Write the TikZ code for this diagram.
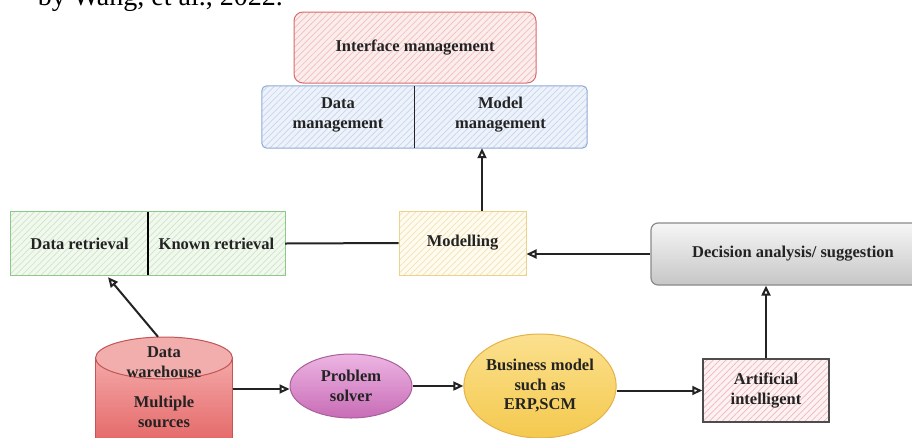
\documentclass[tikz,border=0pt]{standalone}
\usepackage{fontspec}
\setmainfont{Liberation Serif}
\usetikzlibrary{arrows.meta,patterns.meta,shapes.geometric,backgrounds}
\definecolor{txt}{HTML}{232323}
\definecolor{ifb}{HTML}{D96A6A}\definecolor{iff}{HTML}{FCEDED}\definecolor{ifh}{HTML}{F0BDBD}
\definecolor{dmb}{HTML}{8FAAD6}\definecolor{dmf}{HTML}{EEF3FB}\definecolor{dmh}{HTML}{C6D5EE}
\definecolor{grb}{HTML}{8DC78A}\definecolor{grf}{HTML}{F1F8EE}\definecolor{grh}{HTML}{CFE5C8}
\definecolor{yeb}{HTML}{EAD48C}\definecolor{yef}{HTML}{FFFBEF}\definecolor{yeh}{HTML}{F1E3B6}
\definecolor{aib}{HTML}{4D4D4D}\definecolor{aif}{HTML}{FDF1F1}\definecolor{aih}{HTML}{EDB7BF}
\definecolor{cyb}{HTML}{C45555}\definecolor{cyl}{HTML}{F4A8A8}\definecolor{cyd}{HTML}{E25B5B}\definecolor{cyt}{HTML}{F2ADAD}
\definecolor{psb}{HTML}{A8609A}\definecolor{psl}{HTML}{EDB5E3}\definecolor{psd}{HTML}{C86CB6}
\definecolor{bmb}{HTML}{E3B24A}\definecolor{bml}{HTML}{FBE08E}\definecolor{bmd}{HTML}{F4C94E}
\definecolor{deb}{HTML}{8A8A8A}\definecolor{del}{HTML}{F6F6F6}\definecolor{ded}{HTML}{C6C6C6}
\begin{document}
\begin{tikzpicture}[x=1pt,y=-1pt,
  lbl/.style={font=\bfseries\fontsize{16.5}{19.5}\selectfont, align=center, text=txt},
  box/.style={lbl, inner sep=0pt, rectangle},
  hatch/.style 2 args={preaction={fill=#1}, pattern={Lines[angle=45,distance=4.5pt,line width=0.7pt]}, pattern color=#2},
  conn/.style={line width=2pt, txt},
  arr/.style={conn, -{Triangle[open,length=10pt,width=9pt]}}]
\useasboundingbox (0,0) rectangle (912,437);

% citation fragment cut by the top edge (as in the reference)
\node[anchor=base east, inner sep=0pt, font=\fontsize{28}{31}\selectfont, text=black] (cite) at (283,5) {by Wang, et al., 2022.};

% interface management
\node[box, minimum width=242, minimum height=71, rounded corners=9pt, draw=ifb, line width=1pt, hatch={iff}{ifh}] (iface) at (415,47.5) {Interface management};

% data / model management
\node[box, minimum width=152, minimum height=62, text depth=8pt] (dmgmt) at (338,117) {Data\\management};
\node[box, minimum width=173, minimum height=62, text depth=8pt] (mmgmt) at (500.5,117) {Model\\management};
\begin{scope}[on background layer]
  \draw[draw=dmb, line width=1pt, rounded corners=5pt, hatch={dmf}{dmh}] (dmgmt.north west) rectangle (mmgmt.south east);
\end{scope}
\draw[line width=1.3pt, txt] (dmgmt.north east) -- (dmgmt.south east);

% retrieval pair
\node[box, minimum width=137, minimum height=63] (dret) at (79.5,243.5) {Data retrieval};
\node[box, minimum width=137, minimum height=63] (kret) at (216.5,243.5) {Known retrieval};
\begin{scope}[on background layer]
  \draw[draw=grb, line width=1pt, hatch={grf}{grh}] (dret.north west) rectangle (kret.south east);
\end{scope}
\draw[line width=2.4pt, black] (dret.north east) -- (dret.south east);

% modelling
\node[box, minimum width=127, minimum height=64, draw=yeb, line width=1pt, hatch={yef}{yeh}] (model) at (462.5,243) {Modelling};

% decision
\node[box, minimum width=284, minimum height=62, rounded corners=7pt, draw=deb, line width=1.2pt, top color=del, bottom color=ded] (dec) at (793,254) {Decision analysis/ suggestion};

% artificial intelligent
\node[box, minimum width=126, minimum height=63, draw=aib, line width=1.5pt, hatch={aif}{aih}] (ai) at (766,390.5) {Artificial\\intelligent};

% data warehouse cylinder
\node[inner sep=0pt, minimum width=137, minimum height=104] (dw) at (164,389) {};
\begin{scope}[on background layer]
  \path[draw=cyb, line width=1pt, top color=cyl, bottom color=cyd] (dw.west |- 0,358) -- (dw.west |- 0,460) -- (dw.east |- 0,460) -- (dw.east |- 0,358) -- cycle;
  \draw[draw=cyb, line width=1pt, fill=cyt] (164,358) ellipse [x radius=68.5, y radius=21];
\end{scope}
\node[lbl, inner sep=0pt] (dwtop) at (164,362) {Data\\warehouse};
\node[lbl, inner sep=0pt] (dwbot) at (164,412) {Multiple\\sources};

% ellipses
\node[lbl, ellipse, inner sep=0pt, minimum width=122, minimum height=64, draw=psb, line width=1pt, top color=psl, bottom color=psd] (ps) at (351,386) {Problem\\solver};
\node[lbl, ellipse, inner sep=0pt, minimum width=146, minimum height=104, draw=bmb, line width=1pt, top color=bml, bottom color=bmd] (bm) at (540,386) {Business model\\such as\\ERP,SCM};

% connectors
\draw[conn] (kret.east) -- (model.west);
\draw[arr] ([xshift=19.5pt]model.north) -- ([xshift=19.5pt]model.north |- mmgmt.south);
\draw[arr] (dec.west) -- (dec.west -| model.east);
\draw[arr] (ai.north) -- (ai.north |- dec.south);
\draw[arr] ([xshift=-6pt]dw.north) -- ([xshift=28.5pt,yshift=-2pt]dret.south);
\draw[arr] (dw.east) -- (dw.east -| ps.west);
\draw[arr] (ps.east) -- (bm.west);
\draw[arr] (bm.east |- ai.west) -- (ai.west);
\end{tikzpicture}
\end{document}
